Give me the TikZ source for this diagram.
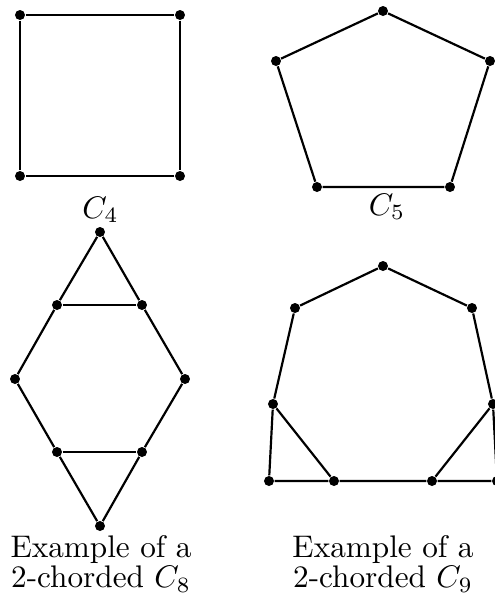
\documentclass[tikz,border=0pt]{standalone}
\usepackage{tikz}
\usetikzlibrary{positioning}

\begin{document}
\begin{tikzpicture}[
    x=0.32pt, y=-0.32pt,
    vertex/.style={circle, fill=black, inner sep=0pt, minimum size=3.2pt},
    edge/.style={line width=0.7pt},
    caption/.style={align=center, inner sep=0pt, font=\fontsize{10}{9.6}\selectfont}
]
    \useasboundingbox (0,0) rectangle (495,593);

    % C4
    \node (s1) [vertex] at (20,15) {};
    \node (s2) [vertex] at (180,15) {};
    \node (s3) [vertex] at (180,176) {};
    \node (s4) [vertex] at (20,176) {};
    \node (lc4) [anchor=base, inner sep=0pt] at (100.5,218) {$C_4$};

    \draw [edge] (s1) -- (s2) -- (s3) -- (s4) -- (s1);

    % C5
    \node (p1) [vertex] at (383,11) {};
    \node (p2) [vertex] at (490,61) {};
    \node (p3) [vertex] at (450,187) {};
    \node (p4) [vertex] at (317,187) {};
    \node (p5) [vertex] at (276,61) {};
    \node (lc5) [anchor=base, inner sep=0pt] at (387,215) {$C_5$};

    \draw [edge] (p1) -- (p2) -- (p3) -- (p4) -- (p5) -- (p1);

    % 2-chorded C8
    \node (e1) [vertex] at (100,232) {};
    \node (e2) [vertex] at (142,305) {};
    \node (e3) [vertex] at (185,379) {};
    \node (e4) [vertex] at (142,452) {};
    \node (e5) [vertex] at (100,526) {};
    \node (e6) [vertex] at (57,452) {};
    \node (e7) [vertex] at (15,379) {};
    \node (e8) [vertex] at (57,305) {};
    \node (lc8) [caption, anchor=north] at (101,535) {Example of a\\2-chorded $C_8$};

    \draw [edge] (e1) -- (e2) -- (e3) -- (e4) -- (e5) -- (e6) -- (e7) -- (e8) -- (e1);
    \draw [edge] (e8) -- (e2);
    \draw [edge] (e6) -- (e4);

    % 2-chorded C9
    \node (n1) [vertex] at (383,266) {};
    \node (n2) [vertex] at (472,308) {};
    \node (n3) [vertex] at (493,404) {};
    \node (n4) [vertex] at (497,481) {};
    \node (n5) [vertex] at (432,481) {};
    \node (n6) [vertex] at (334,481) {};
    \node (n7) [vertex] at (269,481) {};
    \node (n8) [vertex] at (273,404) {};
    \node (n9) [vertex] at (295,308) {};
    \node (lc9) [caption, anchor=north] at (383,535) {Example of a\\2-chorded $C_9$};

    \draw [edge] (n1) -- (n2) -- (n3) -- (n4) -- (n5) -- (n6) -- (n7) -- (n8) -- (n9) -- (n1);
    \draw [edge] (n8) -- (n6);
    \draw [edge] (n3) -- (n5);
\end{tikzpicture}
\end{document}
